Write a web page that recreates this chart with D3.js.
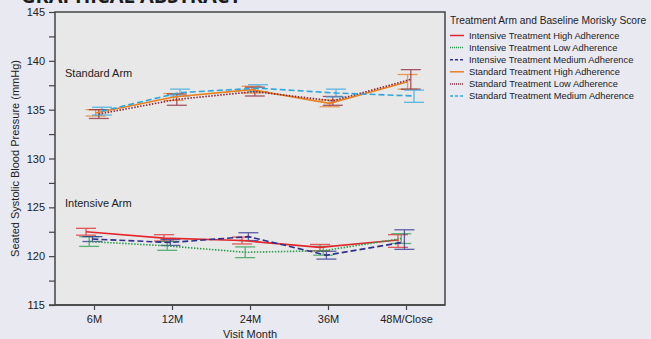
<!DOCTYPE html>
<html>
<head>
<meta charset="utf-8">
<script src="https://cdn.jsdelivr.net/npm/d3@7"></script>
<style>
  html, body { margin: 0; padding: 0; background: #e9e9f1; }
  svg { display: block; font-family: "Liberation Sans", Arial, sans-serif; }
</style>
</head>
<body>
<svg id="chart" width="651" height="339"></svg>
<script>
// Visit months on the x axis
const months = ['6M', '12M', '24M', '36M', '48M/Close'];

// Series labels, in legend order
const seriesNames = [
    'Intensive Treatment High Adherence',
    'Intensive Treatment Low Adherence',
    'Intensive Treatment Medium Adherence',
    'Standard Treatment High Adherence',
    'Standard Treatment Low Adherence',
    'Standard Treatment Medium Adherence'
];
const seriesColors = ['#e3262b', '#2a9d4b', '#2e2f8f', '#e9801e', '#8c2438', '#2ea6e0'];
const seriesDash   = [null, '1.5,1.5', '6,3', null, '1.5,1.5', '6,3'];

// Means and 95% CI bounds (mmHg)
const intHighMean = [122.5, 121.85, 121.6, 120.9, 121.65];
const intHighLo   = [122.15, 121.55, 121.25, 120.55, 120.9];
const intHighHi   = [122.85, 122.2, 121.95, 121.2, 122.2];
const intLowMean  = [121.5, 121.05, 120.4, 120.55, 121.8];
const intLowLo    = [121.0, 120.6, 119.85, 120.1, 121.3];
const intLowHi    = [122.0, 121.5, 120.95, 121.0, 122.3];
const intMedMean  = [121.75, 121.4, 122.0, 120.1, 121.45];
const intMedLo    = [121.5, 121.1, 121.6, 119.7, 120.7];
const intMedHi    = [122.0, 121.7, 122.4, 120.5, 122.7];
const stdHighMean = [134.65, 136.3, 137.05, 135.65, 137.85];
const stdHighLo   = [134.35, 135.95, 136.7, 135.3, 137.1];
const stdHighHi   = [135.0, 136.65, 137.4, 136.0, 138.6];
const stdLowMean  = [134.55, 136.05, 136.85, 135.9, 138.1];
const stdLowLo    = [134.1, 135.45, 136.4, 135.45, 137.1];
const stdLowHi    = [135.0, 136.6, 137.3, 136.35, 139.1];
const stdMedMean  = [134.85, 136.75, 137.2, 136.7, 136.4];
const stdMedLo    = [134.45, 136.4, 136.85, 136.3, 135.75];
const stdMedHi    = [135.25, 137.1, 137.55, 137.1, 137.0];

const yTicks = [115, 117.5, 120, 122.5, 125, 127.5, 130, 132.5, 135, 137.5, 140, 142.5, 145];

const means = [intHighMean, intLowMean, intMedMean, stdHighMean, stdLowMean, stdMedMean];
const lows  = [intHighLo, intLowLo, intMedLo, stdHighLo, stdLowLo, stdMedLo];
const highs = [intHighHi, intLowHi, intMedHi, stdHighHi, stdLowHi, stdMedHi];

const series = seriesNames.map((name, i) => ({
    name,
    color: seriesColors[i],
    dash: seriesDash[i],
    points: months.map((m, j) => ({ month: m, mean: means[i][j], lo: lows[i][j], hi: highs[i][j] }))
}));

const svg = d3.select('#chart');
const plot = { left: 55, right: 445, top: 12, bottom: 305 };

// Cut-off header from the page above the chart
svg.append('text')
    .attr('x', 21).attr('y', 3)
    .attr('font-size', 20).attr('font-weight', 'bold')
    .attr('font-family', '"Open Sans", "Liberation Sans", sans-serif')
    .attr('fill', '#1c1c1c')
    .text('GRAPHICAL ABSTRACT');

svg.append('rect')
    .attr('x', plot.left).attr('y', plot.top)
    .attr('width', plot.right - plot.left).attr('height', plot.bottom - plot.top)
    .attr('fill', '#e8e8e8');

const x = d3.scalePoint().domain(months).range([plot.left, plot.right]).padding(0.5);
const y = d3.scaleLinear().domain([115, 145]).range([plot.bottom, plot.top]);

// small horizontal dodge per series
const dodge = i => (i - 2.5) * 3.2;

// y axis
const yAxis = svg.append('g')
    .attr('transform', `translate(${plot.left},0)`)
    .call(d3.axisLeft(y).tickValues(yTicks).tickSize(6).tickSizeOuter(0)
        .tickFormat(d => d % 5 === 0 ? d : ''));
yAxis.select('.domain').remove();
yAxis.selectAll('.tick line').attr('stroke', '#444').attr('stroke-width', 1.2);
yAxis.selectAll('.tick text').attr('font-size', 11).attr('fill', '#222')
    .attr('font-family', '"Liberation Sans", Arial, sans-serif').attr('x', -10);

// x axis
const xAxis = svg.append('g')
    .attr('transform', `translate(0,${plot.bottom})`)
    .call(d3.axisBottom(x).tickSize(5).tickSizeOuter(0));
xAxis.select('.domain').remove();
xAxis.selectAll('.tick line').attr('stroke', '#444').attr('stroke-width', 1.2);
xAxis.selectAll('.tick text').attr('font-size', 11).attr('fill', '#222')
    .attr('font-family', '"Liberation Sans", Arial, sans-serif').attr('y', 10);

// axis line extending a little past the frame, as in the picture
svg.append('line')
    .attr('x1', plot.left - 6).attr('x2', plot.right)
    .attr('y1', plot.bottom).attr('y2', plot.bottom)
    .attr('stroke', '#444').attr('stroke-width', 1.5);

// plot frame
svg.append('rect')
    .attr('x', plot.left).attr('y', plot.top)
    .attr('width', plot.right - plot.left).attr('height', plot.bottom - plot.top)
    .attr('fill', 'none').attr('stroke', '#444').attr('stroke-width', 1.5);

// axis titles
svg.append('text')
    .attr('x', (plot.left + plot.right) / 2).attr('y', 338)
    .attr('text-anchor', 'middle').attr('font-size', 11).attr('fill', '#222')
    .text('Visit Month');
svg.append('text')
    .attr('transform', `translate(19,${(plot.top + plot.bottom) / 2}) rotate(-90)`)
    .attr('text-anchor', 'middle').attr('font-size', 11).attr('fill', '#222')
    .text('Seated Systolic Blood Pressure (mmHg)');

// arm labels
svg.append('text').attr('x', 65).attr('y', 77).attr('font-size', 11).attr('fill', '#222').text('Standard Arm');
svg.append('text').attr('x', 65).attr('y', 207).attr('font-size', 11).attr('fill', '#222').text('Intensive Arm');

// error bars
const capHalf = 10;
const bars = svg.append('g');
series.forEach((s, i) => {
    const g = bars.append('g').attr('stroke', s.color).attr('stroke-width', 1.3).attr('opacity', 0.75);
    s.points.forEach(p => {
        const cx = x(p.month) + dodge(i);
        g.append('line').attr('x1', cx).attr('x2', cx).attr('y1', y(p.lo)).attr('y2', y(p.hi));
        g.append('line').attr('x1', cx - capHalf).attr('x2', cx + capHalf).attr('y1', y(p.lo)).attr('y2', y(p.lo));
        g.append('line').attr('x1', cx - capHalf).attr('x2', cx + capHalf).attr('y1', y(p.hi)).attr('y2', y(p.hi));
    });
});

// mean lines
const line = d3.line();
svg.append('g').selectAll('path')
    .data(series)
    .join('path')
    .attr('d', (s, i) => line(s.points.map(p => [x(p.month) + dodge(i), y(p.mean)])))
    .attr('fill', 'none')
    .attr('stroke', s => s.color)
    .attr('stroke-width', 1.6)
    .attr('stroke-dasharray', s => s.dash);

// legend
const legend = svg.append('g').attr('transform', 'translate(450,0)');
legend.append('text').attr('x', 0).attr('y', 24).attr('font-size', 10.2).attr('fill', '#222')
    .text('Treatment Arm and Baseline Morisky Score');
const items = legend.selectAll('g.item')
    .data(series)
    .join('g')
    .attr('class', 'item')
    .attr('transform', (d, i) => `translate(0,${35.5 + i * 12.1})`);
items.append('line')
    .attr('x1', 0).attr('x2', 14)
    .attr('stroke', d => d.color).attr('stroke-width', 1.5)
    .attr('stroke-dasharray', d => d.dash ? (d.dash === '6,3' ? '3,2' : '1,1') : null);
items.append('text')
    .attr('x', 19).attr('y', 3.3).attr('font-size', 9.3).attr('fill', '#222')
    .text(d => d.name);
</script>
</body>
</html>
